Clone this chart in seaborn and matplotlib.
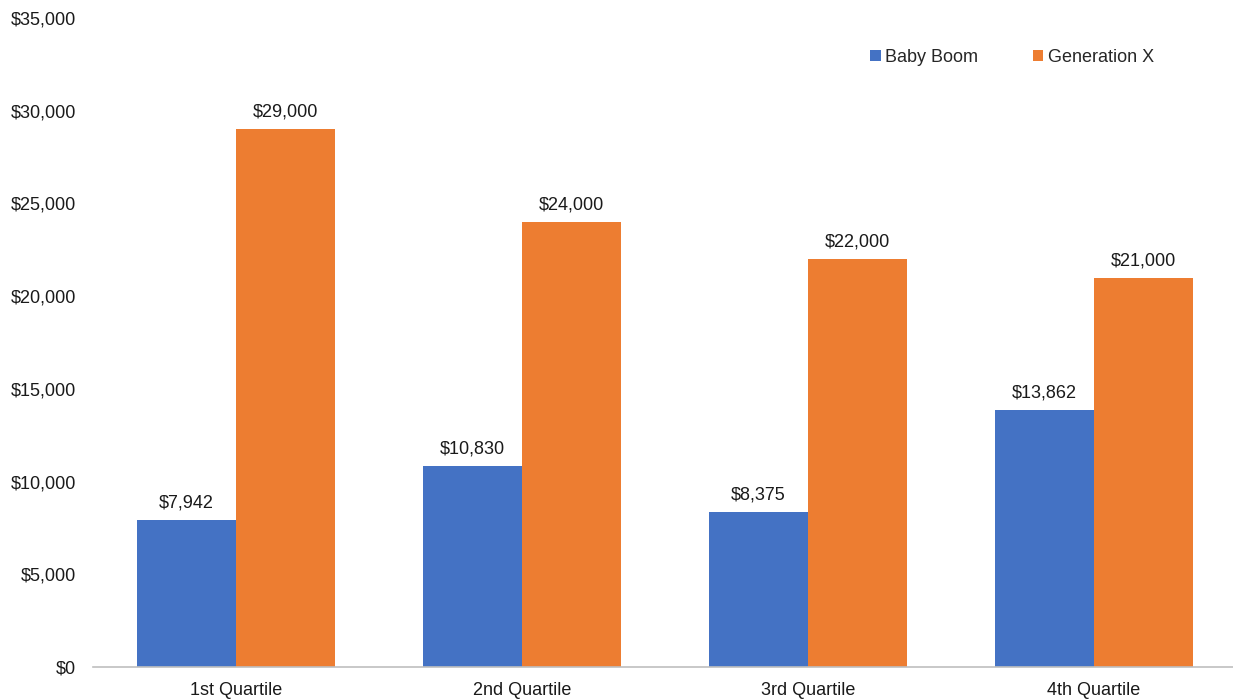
import matplotlib
matplotlib.use("Agg")
import matplotlib.pyplot as plt
import seaborn as sns
import pandas as pd
from matplotlib.ticker import FuncFormatter, MultipleLocator

categories = ["1st Quartile", "2nd Quartile", "3rd Quartile", "4th Quartile"]
series_names = ["Baby Boom", "Generation X"]
baby_boom = [7942, 10830, 8375, 13862]
generation_x = [29000, 24000, 22000, 21000]
colors = ["#4472C4", "#ED7D31"]

df = pd.DataFrame({
    "quartile": categories * 2,
    "series": [series_names[0]] * 4 + [series_names[1]] * 4,
    "value": baby_boom + generation_x,
})

sns.set_theme(style="white")
plt.rcParams["font.family"] = ["Liberation Sans", "DejaVu Sans"]

W, H = 1233, 700
AX_L, AX_B, AX_W, AX_H = 93, 33, 1144, 649
fig = plt.figure(figsize=(W / 100, H / 100), dpi=100)
ax = fig.add_axes([AX_L / W, AX_B / H, AX_W / W, AX_H / H])

sns.barplot(data=df, x="quartile", y="value", hue="series", order=categories,
            hue_order=series_names, palette=colors, width=0.692, gap=0,
            saturation=1, linewidth=0, ax=ax, legend=True)

ax.set_ylim(0, 35000)
ax.set_xlim(-0.5, 3.5)
ax.yaxis.set_major_locator(MultipleLocator(5000))
ax.yaxis.set_major_formatter(FuncFormatter(lambda v, p: f"${v:,.0f}"))
ax.set_xlabel("")
ax.set_ylabel("")
ax.tick_params(axis="y", length=0, pad=12, labelsize=13, labelcolor="#1a1a1a")
ax.tick_params(axis="x", length=0, pad=11, labelsize=13, labelcolor="#1a1a1a")
for side in ["top", "right", "left"]:
    ax.spines[side].set_visible(False)
ax.spines["bottom"].set_color("#BFBFBF")
ax.spines["bottom"].set_linewidth(1.2)

for container in ax.containers:
    ax.bar_label(container, labels=[f"${v:,.0f}" for v in container.datavalues],
                 padding=6, fontsize=13, color="#1a1a1a")

handles, labels = ax.get_legend_handles_labels()
ax.legend(handles, labels, loc="upper right",
          bbox_to_anchor=((1154 - AX_L) / AX_W, (AX_H - 31) / AX_H),
          ncol=2, frameon=False, fontsize=13, handlelength=0.6, handleheight=0.6,
          handletextpad=0.25, columnspacing=3.0, borderaxespad=0, borderpad=0)

fig.savefig("out.png", dpi=100)
